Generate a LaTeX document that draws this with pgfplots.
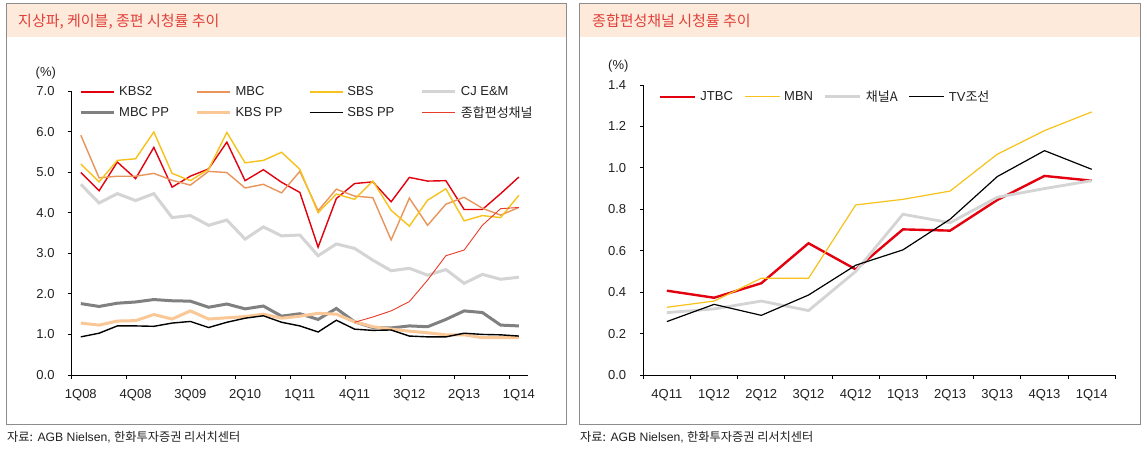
\documentclass[border=0pt]{standalone}
\usepackage{fontspec}
\setmainfont{Liberation Sans}
\newfontfamily\kr{Noto Sans CJK KR}
\usepackage{pgfplots}
\pgfplotsset{compat=1.18}
\definecolor{kbsred}{HTML}{E3000F}
\definecolor{mbcorange}{HTML}{E8945A}
\definecolor{sbsyellow}{HTML}{F6C21B}
\definecolor{cjgray}{HTML}{D4D4D4}
\definecolor{mbcppgray}{HTML}{808080}
\definecolor{kbspp}{HTML}{FAC896}
\definecolor{jongred}{HTML}{E83C28}
\definecolor{titlebg}{HTML}{FDEADB}
\definecolor{titlered}{HTML}{E0403A}
\definecolor{panelgray}{HTML}{8C8C8C}
\definecolor{txt}{HTML}{222222}
\pgfplotsset{
  common/.style={
    scale only axis, clip=false,
    axis lines*=left,
    axis line style={black, line width=1pt},
    tick style={black, line width=1pt},
    major tick length=3.5pt, tick align=outside,
    tick label style={font=\fontsize{13}{15}\selectfont, text=txt},
    /pgf/number format/assume math mode=true,
    yticklabel style={/pgf/number format/fixed, /pgf/number format/fixed zerofill, /pgf/number format/precision=1},
    yticklabel style={anchor=east, inner sep=0pt, xshift=-13.5pt},
    xticklabel style={anchor=base, inner sep=0pt, yshift=-20pt},
    legend cell align=left,
  }
}
\begin{document}
\begin{tikzpicture}[x=1pt,y=1pt]
\useasboundingbox (0,0) rectangle (1147,451);
\fill[white] (0,0) rectangle (1147,451);
% left panel
\fill[titlebg] (6,414.3) rectangle (566,447.7);
\draw[panelgray, line width=1pt] (6,26.7) rectangle (566,447.7);
\node[anchor=west, text=titlered, font=\kr\fontsize{15}{17}\selectfont, inner sep=0pt] at (18,429.7) {지상파, 케이블, 종편 시청률 추이};
\node[anchor=west, text=txt, font=\fontsize{12.2}{14}\selectfont, inner sep=0pt] at (7,14) {{\kr 자료:} AGB Nielsen, {\kr 한화투자증권 리서치센터}};
\node[text=txt, font=\fontsize{13}{15}\selectfont, inner sep=0pt] at (45.8,377.7) {(\%)};
% right panel
\fill[titlebg] (579.3,414.3) rectangle (1140,447.7);
\draw[panelgray, line width=1pt] (579.3,26.7) rectangle (1140,447.7);
\node[anchor=west, text=titlered, font=\kr\fontsize{15}{17}\selectfont, inner sep=0pt] at (592,429.7) {종합편성채널 시청률 추이};
\node[anchor=west, text=txt, font=\fontsize{12.2}{14}\selectfont, inner sep=0pt] at (580,14) {{\kr 자료:} AGB Nielsen, {\kr 한화투자증권 리서치센터}};
\node[text=txt, font=\fontsize{13}{15}\selectfont, inner sep=0pt] at (618.3,385) {(\%)};

\begin{axis}[common,
  at={(71.7pt,76pt)}, anchor=south west,
  width=456.3pt, height=284pt,
  xmin=-0.5, xmax=24.5, ymin=0, ymax=7,
  ytick={0,1,...,7},
  xtick={-0.5,2.5,...,23.5},
  xticklabels={1Q08,4Q08,3Q09,2Q10,1Q11,4Q11,3Q12,2Q13,1Q14},
  xticklabel style={xshift=9.13pt},
  legend columns=4,
  legend image code/.code={\draw[#1] (0pt,0pt) -- (33pt,0pt);},
  legend style={draw=none, fill=none, at={(0.016,1.023)}, anchor=north west,
    font=\fontsize{13}{15}\selectfont, text=txt, inner sep=0pt, row sep=5pt,
    /tikz/every odd column/.append style={column sep=2pt},
    /tikz/every even column/.append style={column sep=24.5pt}},
]
\addplot[kbsred, line width=1.4pt] coordinates {(0,4.99)(1,4.54)(2,5.25)(3,4.84)(4,5.61)(5,4.63)(6,4.90)(7,5.08)(8,5.74)(9,4.79)(10,5.06)(11,4.75)(12,4.50)(13,3.15)(14,4.35)(15,4.72)(16,4.76)(17,4.27)(18,4.87)(19,4.78)(20,4.79)(21,4.08)(22,4.08)(23,4.47)(24,4.88)};
\addlegendentry{KBS2}
\addplot[mbcorange, line width=1.4pt] coordinates {(0,5.91)(1,4.86)(2,4.90)(3,4.90)(4,4.97)(5,4.80)(6,4.68)(7,5.02)(8,4.99)(9,4.61)(10,4.70)(11,4.49)(12,5.02)(13,4.05)(14,4.58)(15,4.41)(16,4.37)(17,3.33)(18,4.36)(19,3.69)(20,4.21)(21,4.38)(22,4.11)(23,3.94)(24,4.13)};
\addlegendentry{MBC}
\addplot[sbsyellow, line width=1.4pt] coordinates {(0,5.20)(1,4.76)(2,5.29)(3,5.33)(4,5.99)(5,4.97)(6,4.79)(7,5.07)(8,5.98)(9,5.23)(10,5.29)(11,5.49)(12,5.07)(13,4.00)(14,4.46)(15,4.33)(16,4.78)(17,4.06)(18,3.67)(19,4.31)(20,4.59)(21,3.80)(22,3.93)(23,3.88)(24,4.43)};
\addlegendentry{SBS}
\addplot[cjgray, line width=3pt] coordinates {(0,4.70)(1,4.24)(2,4.47)(3,4.30)(4,4.47)(5,3.88)(6,3.93)(7,3.69)(8,3.82)(9,3.35)(10,3.65)(11,3.43)(12,3.45)(13,2.94)(14,3.23)(15,3.12)(16,2.83)(17,2.57)(18,2.63)(19,2.46)(20,2.60)(21,2.26)(22,2.48)(23,2.36)(24,2.41)};
\addlegendentry{CJ E\&M}
\addplot[mbcppgray, line width=3pt] coordinates {(0,1.76)(1,1.69)(2,1.77)(3,1.80)(4,1.86)(5,1.83)(6,1.82)(7,1.67)(8,1.75)(9,1.63)(10,1.70)(11,1.45)(12,1.51)(13,1.37)(14,1.64)(15,1.31)(16,1.17)(17,1.16)(18,1.21)(19,1.19)(20,1.37)(21,1.58)(22,1.54)(23,1.23)(24,1.21)};
\addlegendentry{MBC PP}
\addplot[kbspp, line width=3pt] coordinates {(0,1.28)(1,1.23)(2,1.33)(3,1.34)(4,1.49)(5,1.38)(6,1.58)(7,1.38)(8,1.41)(9,1.44)(10,1.50)(11,1.40)(12,1.45)(13,1.52)(14,1.50)(15,1.31)(16,1.19)(17,1.13)(18,1.08)(19,1.04)(20,0.99)(21,0.99)(22,0.92)(23,0.92)(24,0.92)};
\addlegendentry{KBS PP}
\addplot[black, line width=1.4pt] coordinates {(0,0.94)(1,1.03)(2,1.21)(3,1.21)(4,1.20)(5,1.28)(6,1.32)(7,1.17)(8,1.30)(9,1.40)(10,1.46)(11,1.30)(12,1.21)(13,1.06)(14,1.35)(15,1.13)(16,1.10)(17,1.11)(18,0.96)(19,0.94)(20,0.94)(21,1.03)(22,1.00)(23,0.99)(24,0.96)};
\addlegendentry{SBS PP}
\addplot[jongred, line width=0.9pt] coordinates {(15,1.30)(16,1.43)(17,1.58)(18,1.81)(19,2.34)(20,2.94)(21,3.08)(22,3.69)(23,4.10)(24,4.13)};
\addlegendentry{\kr 종합편성채널}
\end{axis}

\begin{axis}[common,
  at={(643.3pt,76pt)}, anchor=south west,
  width=472pt, height=290pt,
  xmin=-0.5, xmax=9.5, ymin=0, ymax=1.4,
  ytick={0,0.2,...,1.4},
  xtick={-0.5,0.5,...,9.5},
  xticklabels={4Q11,1Q12,2Q12,3Q12,4Q12,1Q13,2Q13,3Q13,4Q13,1Q14,{}},
  xticklabel style={xshift=23.6pt},
  legend columns=4,
  legend image code/.code={\draw[#1] (0pt,0pt) -- (35pt,0pt);},
  legend style={draw=none, fill=none, at={(0.033,0.988)}, anchor=north west,
    font=\fontsize{13}{15}\selectfont, text=txt, inner sep=0pt,
    /tikz/every odd column/.append style={column sep=2pt},
    /tikz/every even column/.append style={column sep=9pt}},
]
\addplot[kbsred, line width=2.4pt] coordinates {(0,0.407)(1,0.373)(2,0.443)(3,0.636)(4,0.51)(5,0.703)(6,0.697)(7,0.845)(8,0.961)(9,0.938)};
\addlegendentry{JTBC}
\addplot[sbsyellow, line width=1.2pt] coordinates {(0,0.327)(1,0.357)(2,0.467)(3,0.467)(4,0.821)(5,0.848)(6,0.888)(7,1.066)(8,1.18)(9,1.27)};
\addlegendentry{MBN}
\addplot[cjgray, line width=2.8pt] coordinates {(0,0.301)(1,0.319)(2,0.357)(3,0.311)(4,0.50)(5,0.776)(6,0.735)(7,0.858)(8,0.90)(9,0.938)};
\addlegendentry{\kr 채널A}
\addplot[black, line width=1.2pt] coordinates {(0,0.258)(1,0.341)(2,0.288)(3,0.386)(4,0.53)(5,0.604)(6,0.752)(7,0.958)(8,1.083)(9,0.993)};
\addlegendentry{TV{\kr 조선}}
\end{axis}
\end{tikzpicture}
\end{document}
